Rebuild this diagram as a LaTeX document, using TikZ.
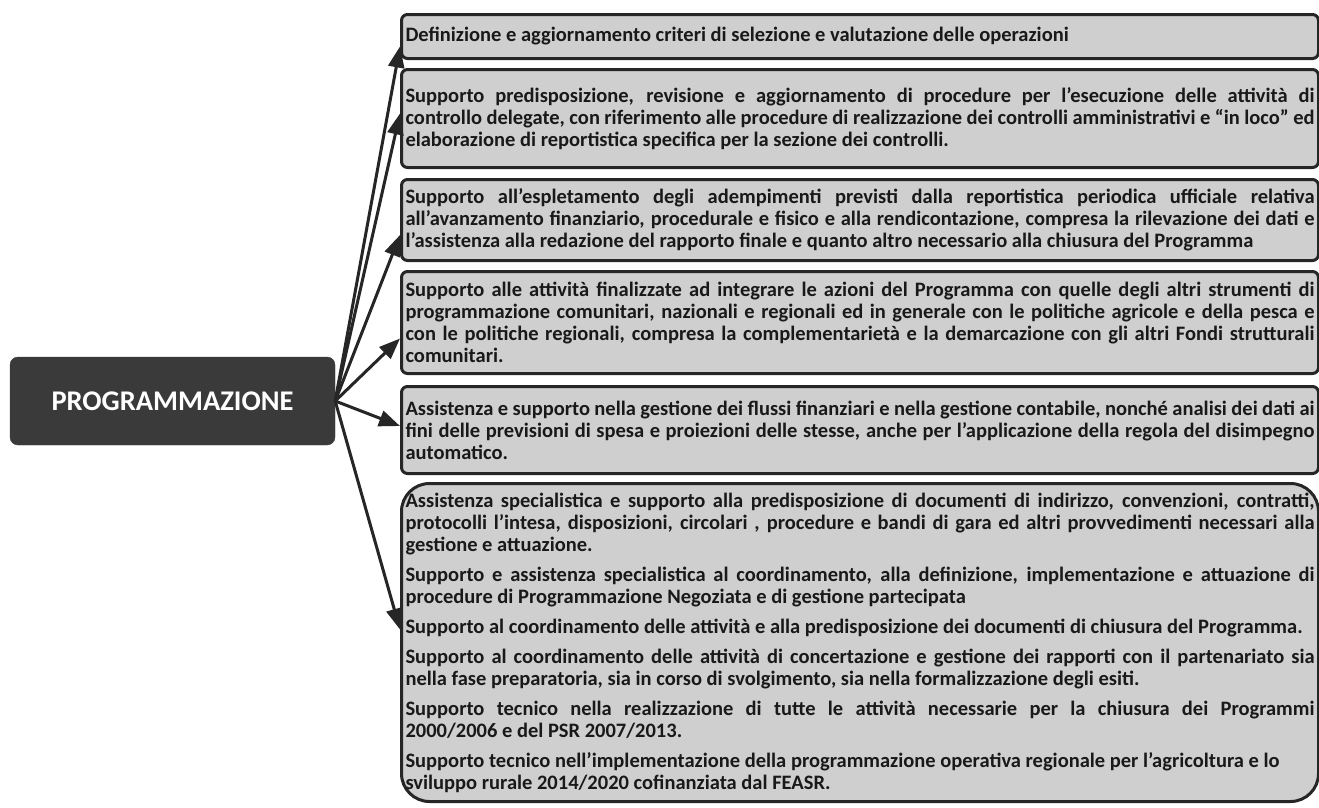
\documentclass[tikz,border=0pt]{standalone}
\usepackage{fontspec}
\setmainfont{Carlito}
\usepackage{xcolor}
\usepackage{tikz}
\usetikzlibrary{arrows.meta,positioning}
\definecolor{boxgray}{HTML}{CFCFCF}
\definecolor{edgegray}{HTML}{262626}
\definecolor{progfill}{HTML}{3A3A3A}
\setlength{\parindent}{0pt}

\begin{document}
\begin{tikzpicture}[
   x=1pt,y=-1pt,
   prog/.style={fill=progfill,draw=progfill,rounded corners=8pt,minimum width=325pt,
               minimum height=88pt,text=white,font=\fontsize{28.5}{30}\selectfont\bfseries},
   task/.style={draw=edgegray,line width=3pt,fill=boxgray,rounded corners=6pt,
               anchor=north west,text width=909pt,inner xsep=4pt,inner ysep=2pt,
               align=justify,text=black!90,
               font=\fontsize{20.5}{22}\selectfont\bfseries\setlength{\parskip}{8pt}},
   arr/.style={-{Triangle[length=21pt,width=16pt]},line width=3pt,draw=edgegray}
  ]
  \path[use as bounding box,fill=white] (0,0) rectangle (1319,807);

  \node[prog] (prog) at (172.5,401) {PROGRAMMAZIONE};

  \node[task,minimum height=44pt] (b1) at (400,13)
    {Definizione e aggiornamento criteri di selezione e valutazione delle operazioni};
  \node[task,minimum height=98pt] (b2) at (400,68)
    {Supporto predisposizione, revisione e aggiornamento di procedure per l'esecuzione delle attività di\linebreak
     controllo delegate, con riferimento alle procedure di realizzazione dei controlli amministrativi e ``in loco'' ed\linebreak
     elaborazione di reportistica specifica per la sezione dei controlli.};
  \node[task,minimum height=81pt] (b3) at (400,178)
    {Supporto all'espletamento degli adempimenti previsti dalla reportistica periodica ufficiale relativa\linebreak
     all'avanzamento finanziario, procedurale e fisico e alla rendicontazione, compresa la rilevazione dei dati e\linebreak
     l'assistenza alla redazione del rapporto finale e quanto altro necessario alla chiusura del Programma};
  \node[task,minimum height=102pt] (b4) at (400,270)
    {Supporto alle attività finalizzate ad integrare le azioni del Programma con quelle degli altri strumenti di\linebreak
     programmazione comunitari, nazionali e regionali ed in generale con le politiche agricole e della pesca e\linebreak
     con le politiche regionali, compresa la complementarietà e la demarcazione con gli altri Fondi strutturali\linebreak
     comunitari.};
  \node[task,minimum height=87pt] (b5) at (400,385)
    {Assistenza e supporto nella gestione dei flussi finanziari e nella gestione contabile, nonché analisi dei dati ai\linebreak
     fini delle previsioni di spesa e proiezioni delle stesse, anche per l'applicazione della regola del disimpegno\linebreak
     automatico.};
  \node[task,minimum height=318pt,rounded corners=28pt] (b6) at (400,482)
    {Assistenza specialistica e supporto alla predisposizione di documenti di indirizzo, convenzioni, contratti,\linebreak
     protocolli l'intesa, disposizioni, circolari , procedure e bandi di gara ed altri provvedimenti necessari alla\linebreak
     gestione e attuazione.\par
     Supporto e assistenza specialistica al coordinamento, alla definizione, implementazione e attuazione di\linebreak
     procedure di Programmazione Negoziata e di gestione partecipata\par
     Supporto al coordinamento delle attività e alla predisposizione dei documenti di chiusura del Programma.\par
     Supporto al coordinamento delle attività di concertazione e gestione dei rapporti con il partenariato sia\linebreak
     nella fase preparatoria, sia in corso di svolgimento, sia nella formalizzazione degli esiti.\par
     Supporto tecnico nella realizzazione di tutte le attività necessarie per la chiusura dei Programmi\linebreak
     2000/2006 e del PSR 2007/2013.\par
     Supporto tecnico nell'implementazione della programmazione operativa regionale per l'agricoltura e lo\newline
     sviluppo rurale 2014/2020 cofinanziata dal FEASR.};

  % one arrow per activity box
  \draw[arr] (prog.east) -- ([yshift=-10pt]b1.west);
  \draw[arr] (prog.east) -- ([yshift=5pt]b2.west);
  \draw[arr] (prog.east) -- ([yshift=-15pt]b3.west);
  \draw[arr] (prog.east) -- ([yshift=-16pt]b4.west);
  \draw[arr] (prog.east) -- ([yshift=4pt]b5.west);
  \draw[arr] (prog.east) -- ([yshift=13pt]b6.west);
\end{tikzpicture}
\end{document}
